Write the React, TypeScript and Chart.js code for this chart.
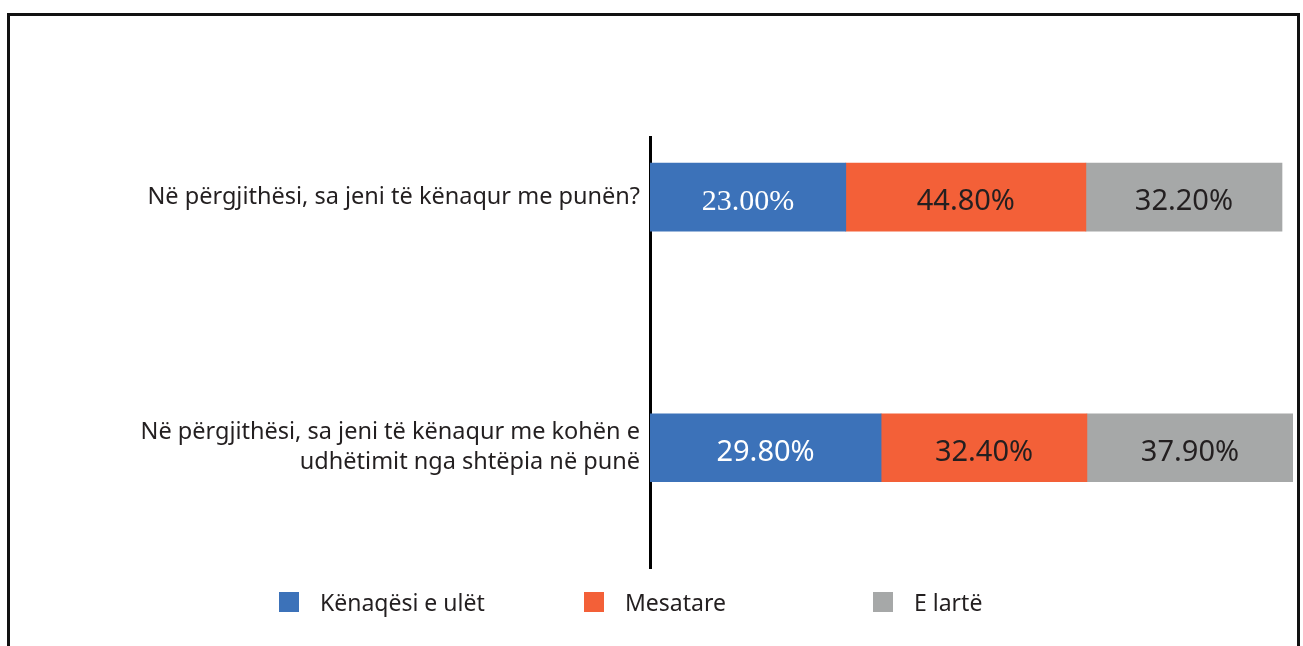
import React, { useEffect, useRef } from "react";
import { Chart, registerables } from "chart.js";

Chart.register(...registerables);

// ---- data ----
const categories: string[][] = [
  ["Në përgjithësi, sa jeni të kënaqur me punën?"],
  ["Në përgjithësi, sa jeni të kënaqur me kohën e", "udhëtimit nga shtëpia në punë"],
];
const seriesNames = ["Kënaqësi e ulët", "Mesatare", "E lartë"];
// bar lengths as drawn in the picture (share of the value axis)
const lowValues = [30.45, 35.94];
const midValues = [37.34, 32.01];
const highValues = [30.5, 32.05];
// printed data labels
const lowLabels = ["23.00%", "29.80%"];
const midLabels = ["44.80%", "32.40%"];
const highLabels = ["32.20%", "37.90%"];

// ---- styles ----
const seriesColors = ["#3C72B9", "#F36038", "#A6A8A8"];
const labelColors = ["#FFFFFF", "#231F20", "#231F20"];
const labelFamilies = [
  ["'Liberation Serif', serif", "'Noto Sans', sans-serif"],
  ["'Noto Sans', sans-serif", "'Noto Sans', sans-serif"],
  ["'Noto Sans', sans-serif", "'Noto Sans', sans-serif"],
];
const labelSizes = [
  [30, 29],
  [29, 29],
  [29, 29],
];
const textColor = "#231F20";

const valueLabelPlugin = {
  id: "valueLabels",
  afterDatasetsDraw(chart: any) {
    const ctx = chart.ctx;
    chart.data.datasets.forEach((ds: any, di: number) => {
      const meta = chart.getDatasetMeta(di);
      meta.data.forEach((el: any, i: number) => {
        const p = el.getCenterPoint();
        ctx.save();
        ctx.font = `${labelSizes[di][i]}px ${labelFamilies[di][i]}`;
        ctx.fillStyle = labelColors[di];
        ctx.textAlign = "center";
        ctx.textBaseline = "alphabetic";
        ctx.fillText(ds.valueLabels[i], p.x, p.y + 13);
        ctx.restore();
      });
    });
  },
};

export default function App() {
  const canvasRef = useRef<HTMLCanvasElement | null>(null);

  useEffect(() => {
    const canvas = canvasRef.current;
    if (!canvas) return;
    const series = [lowValues, midValues, highValues];
    const labels = [lowLabels, midLabels, highLabels];
    const chart = new Chart(canvas, {
      type: "bar",
      data: {
        datasets: series.map((vals, si) => ({
          label: seriesNames[si],
          data: vals.map((v, i) => ({ x: v, y: i })),
          backgroundColor: seriesColors[si],
          borderWidth: 0,
          barThickness: 68,
          valueLabels: labels[si],
        })) as any,
      },
      options: {
        indexAxis: "y",
        responsive: false,
        animation: false,
        events: [],
        layout: { padding: { top: 137, bottom: 78, left: 0, right: 10 } },
        plugins: {
          legend: { display: false },
          tooltip: { enabled: false },
        },
        scales: {
          x: {
            type: "linear",
            display: false,
            stacked: true,
            min: 0,
            max: 100,
          },
          y: {
            type: "linear",
            reverse: true,
            stacked: true,
            offset: false,
            min: -0.24,
            max: 1.48,
            afterBuildTicks: (scale: any) => {
              scale.ticks = categories.map((_, i) => ({ value: i }));
            },
            afterFit: (scale: any) => {
              scale.width = 650;
            },
            grid: { display: false, drawTicks: false, offset: false },
            border: { display: true, color: "#000000", width: 3 },
            ticks: {
              autoSkip: false,
              padding: 10,
              color: textColor,
              font: { family: "'Noto Sans', sans-serif", size: 23.5, lineHeight: 1.28 },
              callback: (v: any) => categories[Math.round(Number(v))] ?? "",
            },
          },
        },
      } as any,
      plugins: [valueLabelPlugin],
    });
    return () => chart.destroy();
  }, []);

  const legendItemWidths = [305, 289, 200];

  return (
    <div
      style={{
        position: "absolute",
        left: 0,
        top: 0,
        width: 1303,
        height: 646,
        overflow: "hidden",
        background: "#FFFFFF",
      }}
    >
      <div
        style={{
          position: "absolute",
          left: 7,
          top: 13,
          width: 1293,
          height: 720,
          border: "3px solid #111111",
          boxSizing: "border-box",
        }}
      />
      <canvas
        ref={canvasRef}
        width={1303}
        height={646}
        style={{ position: "absolute", left: 0, top: 0 }}
      />
      <div
        style={{
          position: "absolute",
          left: 279,
          top: 592,
          display: "flex",
          alignItems: "center",
          fontFamily: "'Noto Sans', sans-serif",
          fontSize: 23,
          color: textColor,
        }}
      >
        {seriesNames.map((name, i) => (
          <div
            key={name}
            style={{ width: legendItemWidths[i], display: "flex", alignItems: "center", height: 20 }}
          >
            <span
              style={{
                display: "inline-block",
                width: 20,
                height: 20,
                background: seriesColors[i],
                marginRight: 21,
                flex: "none",
              }}
            />
            <span style={{ whiteSpace: "nowrap", lineHeight: "20px" }}>{name}</span>
          </div>
        ))}
      </div>
    </div>
  );
}
